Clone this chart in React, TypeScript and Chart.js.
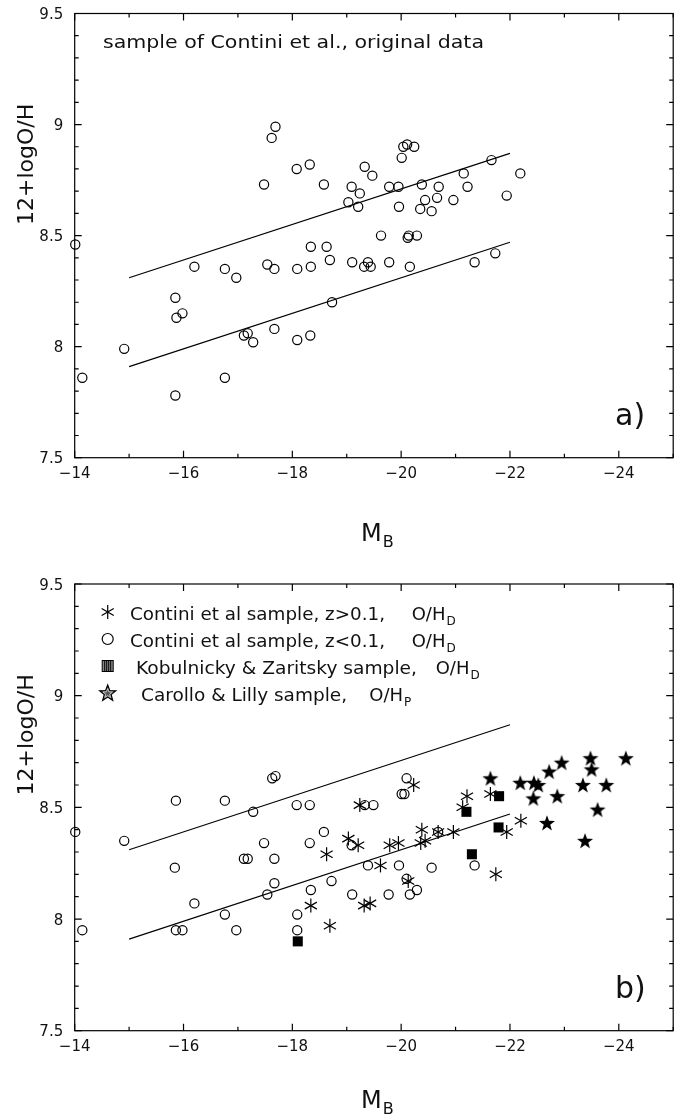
import React, { useEffect, useRef } from 'react';
import { Chart, registerables } from 'chart.js';

Chart.register(...registerables);

// ---------- data ----------
const lineX = [-15, -22];
const upperLineY = [8.31, 8.87];
const lowerLineY = [7.91, 8.47];

// panel a: Contini et al., original data
const origX = [-17.48, -17.62, -17.69, -18.08, -18.32, -18.58, -19.09, -19.24, -19.03, -19.21,
  -19.33, -19.47, -19.63, -20.01, -20.04, -20.11, -20.24, -19.78, -19.95, -19.96,
  -20.38, -20.69, -20.44, -20.66, -20.35, -20.56, -20.96, -21.15, -21.22, -21.66,
  -21.94, -22.19, -20.12, -20.14, -20.29, -14.01, -14.14, -14.91, -15.85, -15.87,
  -15.98, -15.85, -16.20, -16.76, -16.97, -16.76, -17.11, -17.18, -17.28, -17.54,
  -17.67, -17.67, -18.09, -18.09, -18.34, -18.34, -18.33, -18.63, -18.69, -18.73,
  -19.10, -19.32, -19.39, -19.44, -19.78, -20.16, -21.35, -21.73];
const origY = [8.73, 8.94, 8.99, 8.80, 8.82, 8.73, 8.72, 8.69, 8.65, 8.63,
  8.81, 8.77, 8.50, 8.85, 8.90, 8.91, 8.90, 8.72, 8.72, 8.63,
  8.73, 8.72, 8.66, 8.67, 8.62, 8.61, 8.66, 8.78, 8.72, 8.84,
  8.68, 8.78, 8.49, 8.50, 8.50, 8.46, 7.86, 7.99, 8.22, 8.13,
  8.15, 7.78, 8.36, 8.35, 8.31, 7.86, 8.05, 8.06, 8.02, 8.37,
  8.35, 8.08, 8.35, 8.03, 8.45, 8.36, 8.05, 8.45, 8.39, 8.20,
  8.38, 8.36, 8.38, 8.36, 8.38, 8.36, 8.38, 8.42];

// panel b: Contini z<0.1
const lowZX = [-14.01, -14.14, -14.91, -15.86, -15.84, -15.86, -15.98, -16.20, -16.76, -16.76,
  -16.97, -17.28, -17.11, -17.18, -17.48, -17.63, -17.69, -17.67, -17.67, -17.54,
  -18.08, -18.32, -18.32, -18.58, -18.34, -18.72, -18.09, -18.09, -19.09, -19.10,
  -19.39, -19.33, -19.49, -20.10, -20.01, -20.06, -20.68, -19.96, -20.56, -21.35,
  -20.10, -20.16, -20.29, -19.77];
const lowZY = [8.39, 7.95, 8.35, 8.53, 8.23, 7.95, 7.95, 8.07, 8.53, 8.02,
  7.95, 8.48, 8.27, 8.27, 8.34, 8.63, 8.64, 8.27, 8.16, 8.11,
  8.51, 8.51, 8.34, 8.39, 8.13, 8.17, 8.02, 7.95, 8.33, 8.11,
  8.24, 8.51, 8.51, 8.63, 8.56, 8.56, 8.39, 8.24, 8.23, 8.24,
  8.18, 8.11, 8.13, 8.11];

// panel b: Contini z>0.1
const highZX = [-19.24, -19.03, -19.21, -18.63, -18.34, -18.69, -19.32, -19.43, -20.23, -21.21,
  -21.13, -21.64, -22.20, -21.94, -20.96, -20.38, -20.68, -20.36, -20.44, -19.79,
  -19.95, -19.62, -20.13, -21.74];
const highZY = [8.51, 8.36, 8.33, 8.29, 8.06, 7.97, 8.06, 8.07, 8.60, 8.55,
  8.50, 8.56, 8.44, 8.39, 8.39, 8.40, 8.39, 8.34, 8.35, 8.33,
  8.34, 8.24, 8.17, 8.20];

// Kobulnicky & Zaritsky
const kzX = [-18.10, -21.80, -21.20, -21.79, -21.30];
const kzY = [7.90, 8.55, 8.48, 8.41, 8.29];

// Carollo & Lilly
const clX = [-21.64, -22.19, -22.44, -22.52, -22.43, -22.72, -22.95, -22.87, -22.68, -23.34,
  -23.48, -23.50, -23.77, -23.61, -23.38, -24.13];
const clY = [8.63, 8.61, 8.61, 8.60, 8.54, 8.66, 8.70, 8.55, 8.43, 8.60,
  8.72, 8.67, 8.60, 8.49, 8.35, 8.72];

const xMajorTicks = [-14, -16, -18, -20, -22, -24];
const xTickLabels = ['\u221214', '\u221216', '\u221218', '\u221220', '\u221222', '\u221224'];
const yMajorTicks = [7.5, 8, 8.5, 9, 9.5];
const yTickLabels = ['7.5', '8', '8.5', '9', '9.5'];

const legendLabels = [
  'Contini et al sample, z>0.1,',
  'Contini et al sample, z<0.1,',
  'Kobulnicky & Zaritsky sample,',
  'Carollo & Lilly sample,',
];
const legendSubs = ['D', 'D', 'D', 'P'];

// ---------- styling helpers ----------
const FONT = "'DejaVu Sans', 'Liberation Sans', sans-serif";
const INK = '#111';
const ASTERISK_ANGLES = [90, 30, 150];

const zip = (xs: number[], ys: number[]) => xs.map((x, i) => ({ x, y: ys[i] }));

function starPath(g: CanvasRenderingContext2D, cx: number, cy: number, ro: number, ri: number) {
  g.beginPath();
  for (let i = 0; i < 10; i++) {
    const r = i % 2 === 0 ? ro : ri;
    const a = -Math.PI / 2 + (i * Math.PI) / 5;
    const px = cx + r * Math.cos(a);
    const py = cy + r * Math.sin(a);
    if (i === 0) g.moveTo(px, py); else g.lineTo(px, py);
  }
  g.closePath();
}

function makeStar(): HTMLCanvasElement {
  const c = document.createElement('canvas');
  c.width = 20; c.height = 20;
  const g = c.getContext('2d')!;
  g.fillStyle = '#000';
  starPath(g, 10, 10.6, 8.4, 3.4);
  g.fill();
  return c;
}

function fitText(ctx: CanvasRenderingContext2D, text: string, x: number, y: number, size: number, width?: number) {
  ctx.font = `${size}px ${FONT}`;
  if (width) {
    const w = ctx.measureText(text).width;
    ctx.save();
    ctx.translate(x, y);
    ctx.scale(width / w, 1);
    ctx.fillText(text, 0, 0);
    ctx.restore();
  } else {
    ctx.fillText(text, x, y);
  }
}

type PanelCfg = {
  key: string;
  height: number;
  padding: { left: number; right: number; top: number; bottom: number };
  yTitleBottom: number;
  xTitleBaseline: number;
  letter: string;
  letterBaseline: number;
  legend: boolean;
};

function drawFrame(chart: any, cfg: PanelCfg) {
  const { ctx, chartArea } = chart;
  const { left, right, top, bottom } = chartArea;
  const xs = chart.scales.x;
  const ys = chart.scales.y;
  ctx.save();
  ctx.strokeStyle = '#000';
  ctx.lineWidth = 1.2;
  ctx.strokeRect(left, top, right - left, bottom - top);
  ctx.beginPath();
  for (let v = -14; v >= -25; v--) {
    const px = xs.getPixelForValue(v);
    const len = xMajorTicks.includes(v) ? 7 : 4;
    ctx.moveTo(px, bottom); ctx.lineTo(px, bottom - len);
    ctx.moveTo(px, top); ctx.lineTo(px, top + len);
  }
  for (let i = 75; i <= 95; i++) {
    const py = ys.getPixelForValue(i / 10);
    const len = i % 5 === 0 ? 7 : 4;
    ctx.moveTo(left, py); ctx.lineTo(left + len, py);
    ctx.moveTo(right, py); ctx.lineTo(right - len, py);
  }
  ctx.stroke();

  ctx.fillStyle = INK;
  ctx.textBaseline = 'alphabetic';
  ctx.font = `15px ${FONT}`;
  ctx.textAlign = 'center';
  xMajorTicks.forEach((v, i) => ctx.fillText(xTickLabels[i], xs.getPixelForValue(v), bottom + 20));
  ctx.textAlign = 'right';
  yMajorTicks.forEach((v, i) => ctx.fillText(yTickLabels[i], left - 11.5, ys.getPixelForValue(v) + 5.5));

  // y title
  ctx.textAlign = 'left';
  ctx.save();
  ctx.translate(33, cfg.yTitleBottom);
  ctx.rotate(-Math.PI / 2);
  ctx.font = `22px ${FONT}`;
  ctx.fillText('12+logO/H', 0, 0);
  ctx.restore();

  // x title M_B
  ctx.font = `24px ${FONT}`;
  const mW = ctx.measureText('M').width;
  const mx = 361;
  ctx.fillText('M', mx, cfg.xTitleBaseline);
  ctx.font = `16px ${FONT}`;
  ctx.fillText('B', mx + mW + 1, cfg.xTitleBaseline + 6);

  // panel letter
  ctx.font = `30px ${FONT}`;
  ctx.fillText(cfg.letter, 615, cfg.letterBaseline);

  if (!cfg.legend) {
    fitText(ctx, 'sample of Contini et al., original data', 103, 48, 18, 381);
  } else {
    const base = [63, 90, 117, 144];
    const textX = [130, 130, 136, 141];
    const textW = [255, 255, 281, 206];
    const ohX = [411.7, 411.7, 435.7, 369.3];
    const sx = 107.7;
    legendLabels.forEach((lab, i) => {
      fitText(ctx, lab, textX[i], base[i], 18, textW[i]);
      ctx.font = `18px ${FONT}`;
      ctx.fillText('O/H', ohX[i], base[i]);
      const w = ctx.measureText('O/H').width;
      ctx.font = `12px ${FONT}`;
      ctx.fillText(legendSubs[i], ohX[i] + w + 1, base[i] + 5);
    });
    // symbols
    const cy = base.map((b) => b - 8);
    ctx.strokeStyle = '#000';
    ctx.lineWidth = 1.2;
    ctx.beginPath();
    ASTERISK_ANGLES.forEach((deg) => {
      const a = (deg * Math.PI) / 180;
      ctx.moveTo(sx - 7 * Math.cos(a), cy[0] - 7 * Math.sin(a));
      ctx.lineTo(sx + 7 * Math.cos(a), cy[0] + 7 * Math.sin(a));
    });
    ctx.stroke();
    ctx.beginPath();
    ctx.arc(sx, cy[1], 5.5, 0, Math.PI * 2);
    ctx.stroke();
    // hatched square
    ctx.fillStyle = '#888';
    ctx.fillRect(sx - 5.5, cy[2] - 5.5, 11, 11);
    ctx.lineWidth = 1;
    ctx.strokeRect(sx - 5.5, cy[2] - 5.5, 11, 11);
    ctx.beginPath();
    for (let k = -3; k <= 3; k += 2) {
      ctx.moveTo(sx + k, cy[2] - 5.5); ctx.lineTo(sx + k, cy[2] + 5.5);
    }
    ctx.stroke();
    // hatched star
    ctx.fillStyle = '#555';
    starPath(ctx, sx, cy[3] + 0.5, 8.5, 3.6);
    ctx.fill();
    ctx.lineWidth = 1.2;
    ctx.stroke();
    ctx.strokeStyle = '#ddd';
    ctx.lineWidth = 0.8;
    starPath(ctx, sx, cy[3] + 0.5, 5, 2.1);
    ctx.stroke();
  }
  ctx.restore();
}

const panelA: PanelCfg = {
  key: 'a', height: 557,
  padding: { left: 74.7, right: 5.8, top: 13.5, bottom: 99.3 },
  yTitleBottom: 225, xTitleBaseline: 541, letter: 'a)', letterBaseline: 425, legend: false,
};
const panelB: PanelCfg = {
  key: 'b', height: 558,
  padding: { left: 74.7, right: 5.8, top: 27, bottom: 84.3 },
  yTitleBottom: 238.5, xTitleBaseline: 551, letter: 'b)', letterBaseline: 441, legend: true,
};

function lineDataset(ys: number[]) {
  return {
    type: 'line' as const,
    data: zip(lineX, ys),
    borderColor: '#000',
    borderWidth: 1.2,
    pointRadius: 0,
    fill: false,
    clip: false as any,
  };
}

function circleDataset(xs: number[], ys: number[]) {
  return {
    data: zip(xs, ys),
    pointStyle: 'circle',
    pointRadius: 4.6,
    borderWidth: 1.2,
    borderColor: '#000',
    backgroundColor: 'rgba(0,0,0,0)',
    clip: false as any,
  };
}

function Panel({ cfg }: { cfg: PanelCfg }) {
  const ref = useRef<HTMLCanvasElement>(null);
  useEffect(() => {
    const star = makeStar();
    const datasets: any[] = [lineDataset(upperLineY), lineDataset(lowerLineY)];
    if (!cfg.legend) {
      datasets.push(circleDataset(origX, origY));
    } else {
      datasets.push(circleDataset(lowZX, lowZY));
      ASTERISK_ANGLES.forEach((deg) => {
        datasets.push({
          data: zip(highZX, highZY), pointStyle: 'line', rotation: deg, pointRadius: 7,
          borderWidth: 1.2, borderColor: '#000', backgroundColor: '#000', clip: false,
        });
      });
      datasets.push({
        data: zip(kzX, kzY), pointStyle: 'rect', pointRadius: 7.1, borderWidth: 0,
        backgroundColor: '#000', borderColor: '#000', clip: false,
      });
      datasets.push({ data: zip(clX, clY), pointStyle: star, pointRadius: 9, clip: false });
    }
    const chart = new Chart(ref.current!, {
      type: 'scatter',
      data: { datasets },
      options: {
        animation: false,
        responsive: false,
        events: [],
        layout: { padding: cfg.padding, autoPadding: false },
        plugins: { legend: { display: false }, tooltip: { enabled: false }, title: { display: false } },
        scales: {
          x: { type: 'linear', min: -25, max: -14, reverse: true, display: false },
          y: { type: 'linear', min: 7.5, max: 9.5, display: false },
        },
      },
      plugins: [{ id: 'frame' + cfg.key, afterDraw: (c: any) => drawFrame(c, cfg) }],
    } as any);
    return () => chart.destroy();
  }, []);
  return (
    <canvas
      ref={ref}
      width={679}
      height={cfg.height}
      style={{ display: 'block', width: 679, height: cfg.height }}
    />
  );
}

export default function App() {
  return (
    <div style={{ position: 'absolute', left: 0, top: 0, width: 679, height: 1115, background: '#fff' }}>
      <Panel cfg={panelA} />
      <Panel cfg={panelB} />
    </div>
  );
}
